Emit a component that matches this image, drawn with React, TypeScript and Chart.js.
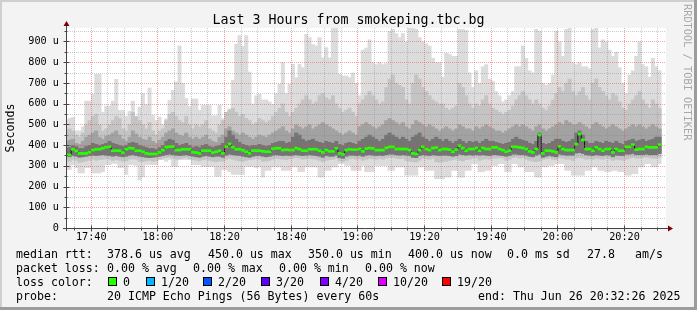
import React, { useEffect, useRef } from "react";
import { Chart, registerables } from "chart.js";

Chart.register(...registerables);

// ---------- data (times in minutes after 17:00, values in microseconds "u") ----------
const FIRST_BIN_MINUTE = 32; // first one-minute bin starts 17:32
const RANGE_START = 32 + 26 / 60; // 17:32:26
const RANGE_END = RANGE_START + 180; // 20:32:26
const Y_MAX = 965;

const xTickMinutes = [40, 60, 80, 100, 120, 140, 160, 180, 200];
const xTickLabels = ["17:40", "18:00", "18:20", "18:40", "19:00", "19:20", "19:40", "20:00", "20:20"];
const yTickValues = [0, 100, 200, 300, 400, 500, 600, 700, 800, 900];
const yTickLabels = ["0", "100 u", "200 u", "300 u", "400 u", "500 u", "600 u", "700 u", "800 u", "900 u"];

// outermost smoke: slowest ping per minute
const rttMax = [
  520, 530, 535, 470, 470, 490, 614, 614, 646, 743,
  743, 560, 590, 590, 614, 719, 569, 569, 540, 565,
  614, 540, 585, 650, 596, 677, 545, 520, 537, 500,
  529, 617, 666, 706, 880, 700, 626, 588, 624, 624,
  570, 593, 593, 593, 543, 543, 593, 529, 545, 577,
  714, 888, 930, 878, 930, 754, 600, 640, 647, 620,
  620, 610, 598, 650, 695, 800, 650, 695, 791, 727,
  791, 775, 936, 920, 887, 880, 920, 823, 872, 823,
  965, 965, 743, 735, 735, 727, 750, 700, 640, 860,
  870, 910, 800, 790, 800, 790, 795, 950, 960, 940,
  920, 940, 900, 970, 965, 960, 920, 900, 890, 880,
  820, 800, 800, 730, 845, 840, 830, 830, 960, 960,
  955, 750, 680, 760, 700, 780, 790, 720, 710, 660,
  640, 610, 620, 640, 660, 780, 780, 880, 820, 760,
  750, 960, 950, 700, 690, 700, 740, 950, 900, 830,
  960, 965, 800, 790, 800, 780, 780, 770, 960, 965,
  870, 910, 900, 860, 830, 850, 775, 700, 650, 740,
  760, 830, 900, 790, 780, 730, 820, 780, 760,
];
const rttHi2 = [
  470, 480, 470, 450, 440, 460, 500, 520, 540, 550,
  500, 470, 480, 500, 520, 540, 530, 480, 470, 500,
  560, 540, 520, 500, 480, 510, 470, 450, 470, 480,
  520, 550, 560, 540, 520, 510, 540, 500, 480, 500,
  490, 500, 520, 480, 470, 460, 500, 520, 560, 570,
  580, 560, 540, 550, 530, 520, 500, 510, 530, 520,
  510, 520, 540, 560, 580, 600, 560, 540, 560, 580,
  600, 620, 640, 620, 600, 610, 640, 650, 630, 620,
  640, 600, 580, 560, 570, 580, 560, 540, 600, 620,
  640, 660, 640, 620, 600, 610, 680, 720, 740, 700,
  690, 680, 620, 600, 700, 740, 720, 680, 660, 640,
  620, 610, 600, 600, 580, 570, 580, 590, 700, 680,
  640, 600, 580, 600, 590, 620, 640, 600, 580, 570,
  560, 550, 560, 570, 590, 620, 640, 660, 640, 620,
  600, 620, 600, 580, 570, 590, 620, 650, 680, 660,
  700, 720, 660, 640, 660, 680, 640, 620, 700, 720,
  680, 660, 640, 620, 650, 640, 610, 580, 570, 600,
  620, 640, 660, 620, 600, 580, 620, 600, 580,
];
const rttHi3 = [
  420, 425, 430, 410, 405, 420, 440, 450, 460, 470,
  440, 430, 445, 450, 460, 470, 450, 430, 420, 440,
  470, 455, 440, 430, 425, 440, 420, 410, 425, 440,
  460, 470, 480, 460, 450, 445, 460, 440, 430, 440,
  430, 440, 450, 430, 420, 415, 440, 450, 480, 490,
  470, 460, 450, 460, 450, 440, 430, 440, 450, 445,
  440, 450, 460, 470, 480, 490, 470, 460, 480, 500,
  490, 480, 490, 500, 480, 490, 500, 510, 500, 490,
  480, 470, 460, 450, 460, 470, 460, 450, 490, 500,
  510, 500, 490, 480, 490, 500, 520, 530, 520, 510,
  500, 510, 490, 480, 500, 520, 510, 500, 490, 500,
  490, 480, 470, 480, 490, 480, 470, 480, 500, 490,
  480, 480, 470, 490, 480, 490, 500, 490, 480, 470,
  470, 460, 470, 480, 490, 500, 490, 500, 490, 480,
  470, 490, 500, 480, 470, 480, 490, 500, 510, 500,
  520, 510, 500, 500, 510, 500, 490, 480, 500, 510,
  500, 490, 480, 490, 500, 490, 480, 470, 480, 490,
  500, 490, 500, 490, 480, 490, 500, 490, 480,
];
const rttHi4 = [
  385, 390, 400, 395, 385, 385, 395, 400, 410, 405,
  400, 405, 410, 420, 410, 405, 400, 395, 400, 410,
  415, 410, 400, 395, 390, 385, 385, 380, 390, 400,
  420, 430, 425, 410, 400, 405, 410, 400, 390, 395,
  390, 400, 405, 395, 390, 395, 400, 410, 440, 470,
  450, 430, 415, 405, 400, 395, 400, 400, 405, 400,
  395, 400, 410, 415, 420, 420, 410, 415, 440, 460,
  450, 430, 420, 425, 430, 420, 415, 410, 420, 415,
  410, 420, 405, 400, 410, 415, 410, 405, 420, 430,
  440, 450, 440, 430, 420, 430, 450, 460, 450, 440,
  430, 440, 430, 420, 440, 450, 460, 440, 430, 420,
  430, 440, 430, 420, 430, 420, 410, 420, 430, 420,
  410, 420, 415, 420, 410, 420, 430, 420, 420, 415,
  410, 405, 410, 415, 430, 440, 430, 425, 420, 410,
  405, 420, 460, 410, 405, 410, 420, 430, 430, 420,
  415, 420, 430, 460, 470, 450, 420, 410, 410, 420,
  415, 410, 420, 415, 410, 420, 410, 405, 420, 425,
  430, 420, 425, 430, 420, 425, 430, 440, 440,
];
// median rtt per minute (green line)
const rttMedian = [
  352, 352, 380, 372, 360, 360, 360, 366, 376, 380,
  380, 385, 390, 393, 373, 373, 373, 364, 380, 386,
  384, 373, 373, 368, 360, 357, 357, 357, 365, 376,
  390, 393, 393, 376, 376, 380, 380, 380, 366, 364,
  360, 373, 373, 373, 364, 368, 373, 360, 393, 406,
  390, 380, 380, 375, 368, 360, 373, 373, 373, 370,
  368, 368, 382, 385, 385, 376, 378, 376, 376, 385,
  380, 373, 373, 380, 380, 380, 373, 365, 376, 370,
  370, 384, 360, 355, 376, 380, 378, 378, 381, 370,
  383, 386, 384, 376, 376, 376, 386, 392, 392, 381,
  381, 381, 381, 376, 360, 357, 376, 392, 381, 376,
  386, 388, 376, 381, 381, 378, 368, 378, 397, 386,
  373, 381, 381, 386, 373, 386, 381, 381, 389, 389,
  381, 376, 368, 373, 392, 392, 389, 386, 381, 370,
  365, 381, 449, 360, 373, 373, 370, 365, 394, 381,
  376, 376, 376, 405, 454, 425, 381, 381, 373, 389,
  381, 373, 381, 381, 365, 381, 373, 373, 392, 392,
  402, 378, 381, 381, 392, 389, 389, 389, 402,
];
const rttLo3 = [
  345, 342, 348, 345, 340, 342, 345, 348, 350, 348,
  350, 352, 350, 348, 345, 348, 345, 342, 345, 350,
  352, 348, 345, 342, 340, 338, 340, 342, 345, 348,
  352, 355, 352, 350, 348, 350, 352, 348, 345, 342,
  340, 345, 348, 345, 342, 345, 345, 340, 350, 355,
  352, 350, 348, 345, 342, 340, 345, 348, 348, 345,
  342, 345, 350, 352, 350, 348, 350, 348, 350, 352,
  350, 348, 350, 352, 350, 348, 345, 340, 348, 345,
  345, 350, 338, 335, 345, 350, 350, 348, 350, 345,
  350, 352, 350, 348, 350, 348, 352, 355, 355, 352,
  350, 352, 350, 348, 340, 338, 348, 352, 350, 348,
  352, 350, 348, 350, 350, 348, 345, 348, 355, 352,
  350, 352, 350, 352, 350, 352, 350, 348, 352, 352,
  350, 348, 345, 348, 355, 355, 352, 352, 350, 345,
  342, 350, 355, 340, 345, 348, 345, 342, 355, 352,
  350, 350, 350, 360, 362, 358, 352, 350, 348, 352,
  350, 348, 352, 350, 342, 350, 348, 348, 355, 355,
  358, 352, 352, 352, 355, 352, 352, 352, 358,
];
const rttLo2 = [
  325, 320, 330, 325, 315, 318, 322, 325, 330, 325,
  328, 330, 332, 330, 325, 328, 325, 320, 322, 330,
  332, 330, 320, 318, 322, 325, 320, 322, 330, 335,
  338, 340, 335, 330, 332, 335, 338, 332, 328, 325,
  322, 328, 330, 325, 320, 318, 322, 320, 330, 335,
  330, 325, 322, 320, 325, 328, 330, 332, 330, 320,
  322, 325, 330, 335, 332, 330, 328, 332, 335, 338,
  335, 330, 332, 335, 332, 330, 325, 318, 325, 328,
  330, 335, 322, 318, 325, 332, 335, 330, 332, 325,
  330, 335, 332, 330, 335, 330, 335, 338, 338, 335,
  332, 335, 325, 320, 318, 316, 325, 335, 332, 330,
  335, 318, 315, 318, 320, 325, 328, 332, 325, 322,
  328, 330, 335, 338, 325, 330, 332, 330, 335, 335,
  338, 335, 325, 330, 338, 340, 335, 338, 330, 325,
  320, 318, 322, 330, 332, 335, 330, 328, 338, 335,
  330, 330, 325, 335, 338, 335, 330, 332, 330, 335,
  332, 330, 335, 332, 325, 330, 328, 325, 330, 335,
  338, 335, 335, 338, 340, 338, 335, 335, 340,
];
// fastest ping per minute
const rttMin = [
  280, 280, 304, 290, 264, 264, 290, 290, 264, 264,
  264, 270, 304, 304, 310, 310, 290, 290, 257, 304,
  304, 300, 231, 245, 304, 304, 304, 304, 328, 328,
  320, 328, 295, 295, 328, 328, 328, 328, 304, 304,
  304, 295, 295, 295, 295, 248, 248, 280, 280, 270,
  257, 257, 257, 257, 295, 295, 295, 290, 293, 244,
  276, 276, 293, 293, 293, 276, 276, 276, 293, 293,
  270, 270, 293, 293, 293, 293, 244, 244, 276, 276,
  293, 293, 309, 309, 300, 300, 276, 276, 276, 300,
  270, 270, 270, 300, 300, 300, 300, 276, 276, 293,
  293, 293, 253, 253, 253, 253, 293, 293, 276, 276,
  276, 236, 236, 236, 244, 244, 276, 276, 244, 244,
  276, 276, 309, 309, 270, 270, 276, 276, 300, 300,
  309, 309, 270, 270, 309, 309, 293, 293, 270, 270,
  270, 244, 244, 293, 293, 300, 300, 309, 309, 309,
  276, 276, 253, 253, 253, 253, 276, 276, 293, 293,
  276, 276, 270, 270, 276, 276, 270, 270, 253, 253,
  260, 260, 293, 293, 309, 309, 293, 293, 309,
];

const titleText = "Last 3 Hours from smokeping.tbc.bg";
const yAxisTitle = "Seconds";
const sideText = "RRDTOOL / TOBI OETIKER";
const rttLegend = ["median rtt:", "378.6 us avg", "450.0 us max", "350.0 us min", "400.0 us now", "0.0 ms sd", "27.8", "am/s"];
const lossLegend = ["packet loss:", "0.00 % avg", "0.00 % max", "0.00 % min", "0.00 % now"];
const lossColorTitle = "loss color:";
const lossLabels = ["0", "1/20", "2/20", "3/20", "4/20", "10/20", "19/20"];
const lossColors = ["#26ff00", "#00b8ff", "#0059ff", "#5e00ff", "#7e00ff", "#dd00ff", "#ff0000"];
const probeLegend = ["probe:", "20 ICMP Echo Pings (56 Bytes) every 60s", "end: Thu Jun 26 20:32:26 2025"];

// ---------- layout (pixels) ----------
const W = 697;
const H = 310;
const MONO = '"DejaVu Sans Mono", monospace';
const rttX = [16, 107, 208, 308, 408, 507, 587, 635];
const lossX = [16, 107, 193, 279, 365];
const boxX = [108, 146, 203, 261, 320, 378, 442];
const probeX = [16, 107, 478];
const lineY = [258, 272, 286, 300];

const binCenters = rttMedian.map((_, i) => FIRST_BIN_MINUTE + i + 0.5);
const band = (lo: number[], hi: number[]) => binCenters.map((x, i) => ({ x, y: [lo[i], hi[i]] }));

const rrdPlugin = {
  id: "rrdLook",
  beforeDraw(chart: any) {
    const ctx = chart.ctx;
    const a = chart.chartArea;
    ctx.save();
    ctx.fillStyle = "#f3f3f3";
    ctx.fillRect(0, 0, W, H);
    ctx.fillStyle = "#cfcfcf";
    ctx.fillRect(0, 0, W, 2);
    ctx.fillRect(0, 0, 2, H);
    ctx.fillStyle = "#9c9c9c";
    ctx.fillRect(0, H - 3, W, 3);
    ctx.fillRect(W - 3, 0, 3, H);
    ctx.fillStyle = "#ffffff";
    ctx.fillRect(a.left, a.top, a.right - a.left, a.bottom - a.top);
    ctx.restore();
  },
  afterDatasetsDraw(chart: any) {
    const ctx = chart.ctx;
    const a = chart.chartArea;
    const xs = chart.scales.x;
    const ys = chart.scales.y;
    ctx.save();
    ctx.beginPath();
    ctx.rect(a.left, a.top, a.right - a.left, a.bottom - a.top);
    ctx.clip();
    ctx.lineWidth = 1;
    ctx.setLineDash([1, 1]);
    const grey = "rgba(130,130,130,0.42)";
    const red = "rgba(235,70,70,0.5)";
    for (let v = 50; v < Y_MAX; v += 50) {
      const y = Math.round(ys.getPixelForValue(v)) + 0.5;
      ctx.strokeStyle = v % 100 === 0 ? red : grey;
      ctx.beginPath();
      ctx.moveTo(a.left, y);
      ctx.lineTo(a.right, y);
      ctx.stroke();
    }
    for (let t = 35; t < RANGE_END; t += 5) {
      const x = Math.floor(xs.getPixelForValue(t)) + 0.5;
      ctx.strokeStyle = t % 20 === 0 ? red : grey;
      ctx.beginPath();
      ctx.moveTo(x, a.top);
      ctx.lineTo(x, a.bottom);
      ctx.stroke();
    }
    ctx.restore();
  },
  afterDraw(chart: any) {
    const ctx = chart.ctx;
    const a = chart.chartArea;
    const xs = chart.scales.x;
    const ys = chart.scales.y;
    ctx.save();
    // axes
    ctx.setLineDash([]);
    ctx.lineWidth = 1;
    ctx.strokeStyle = "#454545";
    const ax = a.left + 0.5;
    const ay = a.bottom + 0.5;
    ctx.beginPath();
    ctx.moveTo(a.left - 3, ay);
    ctx.lineTo(a.right + 2, ay);
    ctx.moveTo(ax, a.top - 2);
    ctx.lineTo(ax, a.bottom + 3);
    ctx.stroke();
    // ticks
    ctx.beginPath();
    for (let v = 0; v < Y_MAX; v += 50) {
      const y = Math.round(ys.getPixelForValue(v)) + 0.5;
      if (v % 100 === 0) {
        ctx.moveTo(ax - 3, y);
        ctx.lineTo(ax + 3, y);
      } else {
        ctx.moveTo(ax - 2, y);
        ctx.lineTo(ax + 1, y);
      }
    }
    for (let t = 35; t < RANGE_END; t += 5) {
      const x = Math.floor(xs.getPixelForValue(t)) + 0.5;
      if (t % 20 === 0) {
        ctx.moveTo(x, ay - 3);
        ctx.lineTo(x, ay + 3);
      } else {
        ctx.moveTo(x, ay - 1);
        ctx.lineTo(x, ay + 2);
      }
    }
    ctx.stroke();
    // arrows
    ctx.fillStyle = "#7f0000";
    ctx.beginPath();
    ctx.moveTo(ax, a.top - 7);
    ctx.lineTo(ax - 3, a.top - 2);
    ctx.lineTo(ax + 3, a.top - 2);
    ctx.closePath();
    ctx.fill();
    ctx.beginPath();
    ctx.moveTo(a.right + 7, ay);
    ctx.lineTo(a.right + 2, ay - 3);
    ctx.lineTo(a.right + 2, ay + 3);
    ctx.closePath();
    ctx.fill();

    // title
    ctx.fillStyle = "#000";
    ctx.font = `13.3px ${MONO}`;
    ctx.textAlign = "center";
    ctx.textBaseline = "alphabetic";
    ctx.fillText(titleText, W / 2, 24);

    // y axis title
    ctx.save();
    ctx.translate(14, (a.top + a.bottom) / 2);
    ctx.rotate(-Math.PI / 2);
    ctx.font = `11.6px ${MONO}`;
    ctx.textAlign = "center";
    ctx.textBaseline = "alphabetic";
    ctx.fillText(yAxisTitle, 0, 0);
    ctx.restore();

    // side watermark
    ctx.save();
    ctx.translate(684, 4);
    ctx.rotate(Math.PI / 2);
    ctx.font = `10.3px ${MONO}`;
    ctx.fillStyle = "#a8a8a8";
    ctx.textAlign = "left";
    ctx.textBaseline = "alphabetic";
    ctx.fillText(sideText, 0, 0);
    ctx.restore();

    // legend
    ctx.font = `11.6px ${MONO}`;
    ctx.textAlign = "left";
    ctx.textBaseline = "alphabetic";
    ctx.fillStyle = "#000";
    rttLegend.forEach((s, i) => ctx.fillText(s, rttX[i], lineY[0]));
    lossLegend.forEach((s, i) => ctx.fillText(s, lossX[i], lineY[1]));
    ctx.fillText(lossColorTitle, 16, lineY[2]);
    lossLabels.forEach((s, i) => {
      const bx = boxX[i];
      ctx.fillStyle = lossColors[i];
      ctx.fillRect(bx, 277, 9, 9);
      ctx.strokeStyle = "#000";
      ctx.lineWidth = 1;
      ctx.strokeRect(bx + 0.5, 277.5, 8, 8);
      ctx.fillStyle = "#000";
      ctx.fillText(s, bx + 15, lineY[2]);
    });
    probeLegend.forEach((s, i) => ctx.fillText(s, probeX[i], lineY[3]));
    ctx.restore();
  },
};

export default function App() {
  const ref = useRef<HTMLCanvasElement>(null);
  useEffect(() => {
    document.body.style.margin = "0";
    const canvas = ref.current!;
    const green = binCenters.map((x, i) => ({ x, y: [rttMedian[i] - 6.5, rttMedian[i] + 6.5] }));
    const barCommon = {
      type: "bar" as const,
      grouped: false,
      barThickness: 4,
      borderWidth: 0,
      inflateAmount: 0,
    };
    const chart = new Chart(canvas, {
      type: "bar",
      data: {
        datasets: [
          { ...barCommon, label: "smoke 1", data: band(rttMin, rttMax), backgroundColor: "#dcdcdc", order: 6 },
          { ...barCommon, label: "smoke 2", data: band(rttLo2, rttHi2), backgroundColor: "#c4c4c4", order: 5 },
          { ...barCommon, label: "smoke 3", data: band(rttLo3, rttHi3), backgroundColor: "#a2a2a2", order: 4 },
          { ...barCommon, label: "smoke 4", data: band(rttLo3, rttHi4), backgroundColor: "#747474", order: 3 },
          {
            type: "line",
            label: "median step",
            data: binCenters.map((x, i) => ({ x, y: rttMedian[i] })),
            stepped: "middle",
            borderColor: "#111111",
            borderWidth: 1,
            pointRadius: 0,
            fill: false,
            order: 2,
          },
          { ...barCommon, label: "median", data: green, backgroundColor: "#26ff00", order: 1 },
        ] as any,
      },
      options: {
        responsive: false,
        devicePixelRatio: 1,
        animation: false,
        events: [],
        layout: { padding: { left: 0, right: 31, top: 28, bottom: 0 } },
        plugins: { legend: { display: false }, tooltip: { enabled: false }, title: { display: false } },
        scales: {
          x: {
            type: "linear",
            min: RANGE_START,
            max: RANGE_END,
            offset: false,
            grid: { display: false, drawTicks: false },
            border: { display: false },
            afterFit: (s: any) => {
              s.height = H - 228;
            },
            afterBuildTicks: (s: any) => {
              s.ticks = xTickMinutes.map((v) => ({ value: v }));
            },
            ticks: {
              autoSkip: false,
              maxRotation: 0,
              padding: 3,
              color: "#000",
              font: { family: MONO, size: 10.2 },
              callback: (v: any) => xTickLabels[xTickMinutes.indexOf(Number(v))] ?? "",
            },
          },
          y: {
            type: "linear",
            min: 0,
            max: Y_MAX,
            grid: { display: false, drawTicks: false },
            border: { display: false },
            afterFit: (s: any) => {
              s.width = 66;
            },
            afterBuildTicks: (s: any) => {
              s.ticks = yTickValues.map((v) => ({ value: v }));
            },
            ticks: {
              autoSkip: false,
              padding: 7,
              color: "#000",
              font: { family: MONO, size: 10.2 },
              callback: (v: any) => yTickLabels[yTickValues.indexOf(Number(v))] ?? "",
            },
          },
        },
      } as any,
      plugins: [rrdPlugin],
    });
    return () => chart.destroy();
  }, []);
  return (
    <div style={{ width: W, height: H }}>
      <canvas ref={ref} width={W} height={H} style={{ display: "block", width: W, height: H }} />
    </div>
  );
}
